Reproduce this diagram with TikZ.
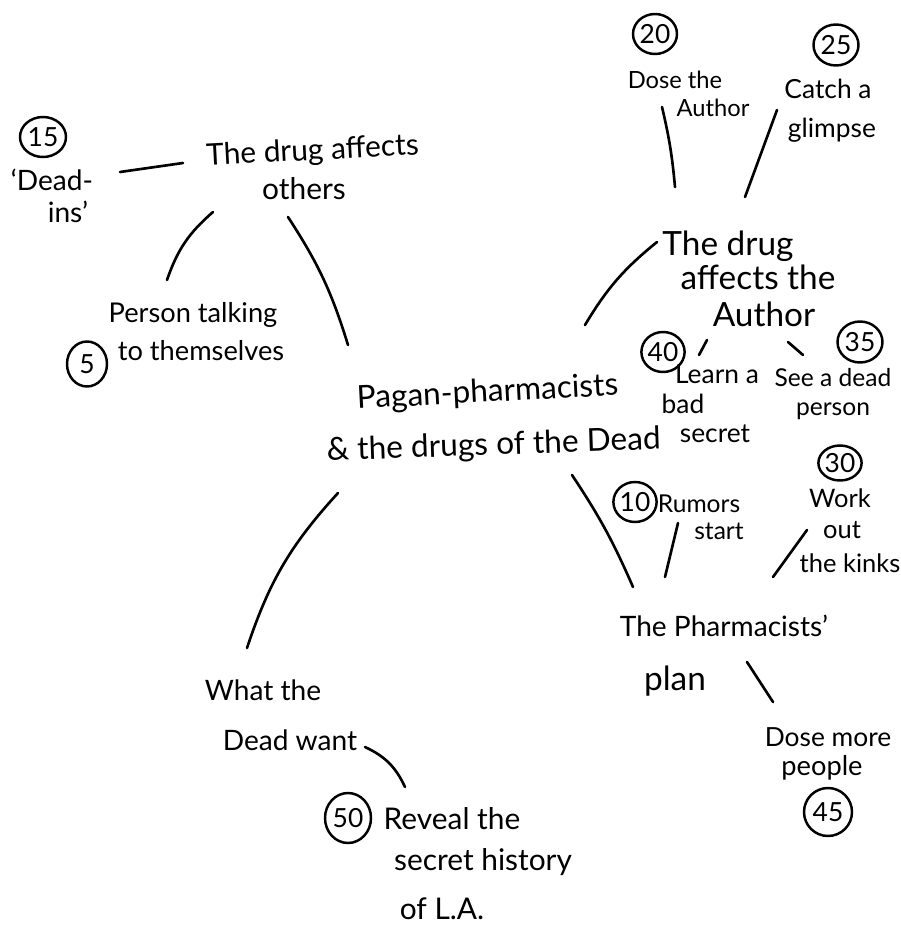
\documentclass[tikz,border=0pt]{standalone}
\usepackage{fontspec}
\setmainfont{Lato}
\usetikzlibrary{shapes.geometric}
\begin{document}
\begin{tikzpicture}[x=0.02cm,y=-0.02cm,
  t/.style={font=\fontsize{#1}{#1}\selectfont, anchor=base, inner sep=0pt},
  num/.style 2 args={ellipse, draw, line width=1.4pt, minimum width=#1*0.02cm, minimum height=#2*0.02cm, inner sep=0pt, font=\fontsize{15}{15}\selectfont},
  conn/.style={line width=1.5pt, line cap=round}]
\fill[white] (0,0) rectangle (901,926);
\useasboundingbox (0,0) rectangle (901,926);

% numbers
\node[num={46}{40}] (n15) at (43,137) {15};
\node[num={40}{45}] (n5) at (87,364) {5};
\node[num={44}{40}] (n20) at (655,34) {20};
\node[num={45}{41}] (n25) at (836,45) {25};
\node[num={43}{40}] (n40) at (663,352) {40};
\node[num={45}{41}] (n35) at (860,342) {35};
\node[num={40}{35}] (n30) at (840,463) {30};
\node[num={43}{40}] (n10) at (635,502) {10};
\node[num={48}{48}] (n45) at (828,812) {45};
\node[num={46}{50}] (n50) at (348,818) {50};

% text
\node[t=16] (deadA) at (52,190) {`Dead-};
\node[t=16] (deadB) at (68,222) {ins'};
\node[t=17, rotate=3] (othersA) at (313,160) {The drug affects};
\node[t=17] (othersB) at (304,199) {others};
\node[t=15.5] (personA) at (193,322) {Person talking};
\node[t=15.5] (personB) at (201,360) {to themselves};
\node[t=13.5] (doseA) at (675,89) {Dose the};
\node[t=13.5] (doseB) at (713,116) {Author};
\node[t=15] (catchA) at (828,99) {Catch a};
\node[t=15] (catchB) at (832,137) {glimpse};
\node[t=19] (authA) at (728,255) {The drug};
\node[t=19] (authB) at (758,289) {affects the};
\node[t=19] (authC) at (764,326) {Author};
\node[t=15] (learnA) at (717,383) {Learn a};
\node[t=15] (learnB) at (683,413) {bad};
\node[t=15] (learnC) at (715,442) {secret};
\node[t=14] (seeA) at (833,386) {See a dead};
\node[t=14] (seeB) at (833,415) {person};
\node[t=14.5] (workA) at (840,507) {Work};
\node[t=14.5] (workB) at (842,538) {out};
\node[t=14.5] (workC) at (850,572) {the kinks};
\node[t=14] (rumA) at (699,512) {Rumors};
\node[t=14] (rumB) at (719,539) {start};
\node[t=18, rotate=3] (centerA) at (488,402) {Pagan-pharmacists};
\node[t=18, rotate=2] (centerB) at (494,455) {\& the drugs of the Dead};
\node[t=16] (planA) at (724,636) {The Pharmacists'};
\node[t=19] (planB) at (675,690) {plan};
\node[t=15] (moreA) at (828,746) {Dose more};
\node[t=15.5] (moreB) at (822,775) {people};
\node[t=16] (wantA) at (263,700) {What the};
\node[t=16] (wantB) at (290,750) {Dead want};
\node[t=17] (revA) at (452,829) {Reveal the};
\node[t=17] (revB) at (483,870) {secret history};
\node[t=17] (revC) at (442,919) {of L.A.};

% connectors
\draw[conn] ([shift={(68,-18)}]deadA.base) -- ([shift={(-130,3)}]othersA.base);
\draw[conn] ([shift={(-91,13)}]othersB.base) to[bend right=15] ([shift={(-26,-42)}]personA.base);
\draw[conn] ([shift={(-140,-57)}]centerA.base) to[bend right=8] ([shift={(-16,18)}]othersB.base);
\draw[conn] ([shift={(97,-77)}]centerA.base) to[bend left=10] ([shift={(-71,-13)}]authA.base);
\draw[conn] ([shift={(-51,-9)}]doseB.base) to[bend left=4] ([shift={(-53,-68)}]authA.base);
\draw[conn] ([shift={(-55,-27)}]catchB.base) -- ([shift={(17,-58)}]authA.base);
\draw[conn] ([shift={(-57,14)}]authC.base) -- ([shift={(-18,-28)}]learnA.base);
\draw[conn] ([shift={(24,16)}]authC.base) -- ([shift={(-30,-31)}]seeA.base);
\draw[conn] ([shift={(78,20)}]centerB.base) to[bend left=5] ([shift={(-91,-49)}]planA.base);
\draw[conn] ([shift={(-41,-16)}]rumB.base) -- ([shift={(-59,-59)}]planA.base);
\draw[conn] ([shift={(-43,-42)}]workC.base) -- ([shift={(49,-59)}]planA.base);
\draw[conn] ([shift={(72,-28)}]planB.base) -- ([shift={(-55,-44)}]moreA.base);
\draw[conn] ([shift={(-156,38)}]centerB.base) to[bend right=12] ([shift={(-16,-52)}]wantA.base);
\draw[conn] ([shift={(75,-3)}]wantB.base) to[bend left=20] ([shift={(-47,-42)}]revA.base);
\end{tikzpicture}
\end{document}
